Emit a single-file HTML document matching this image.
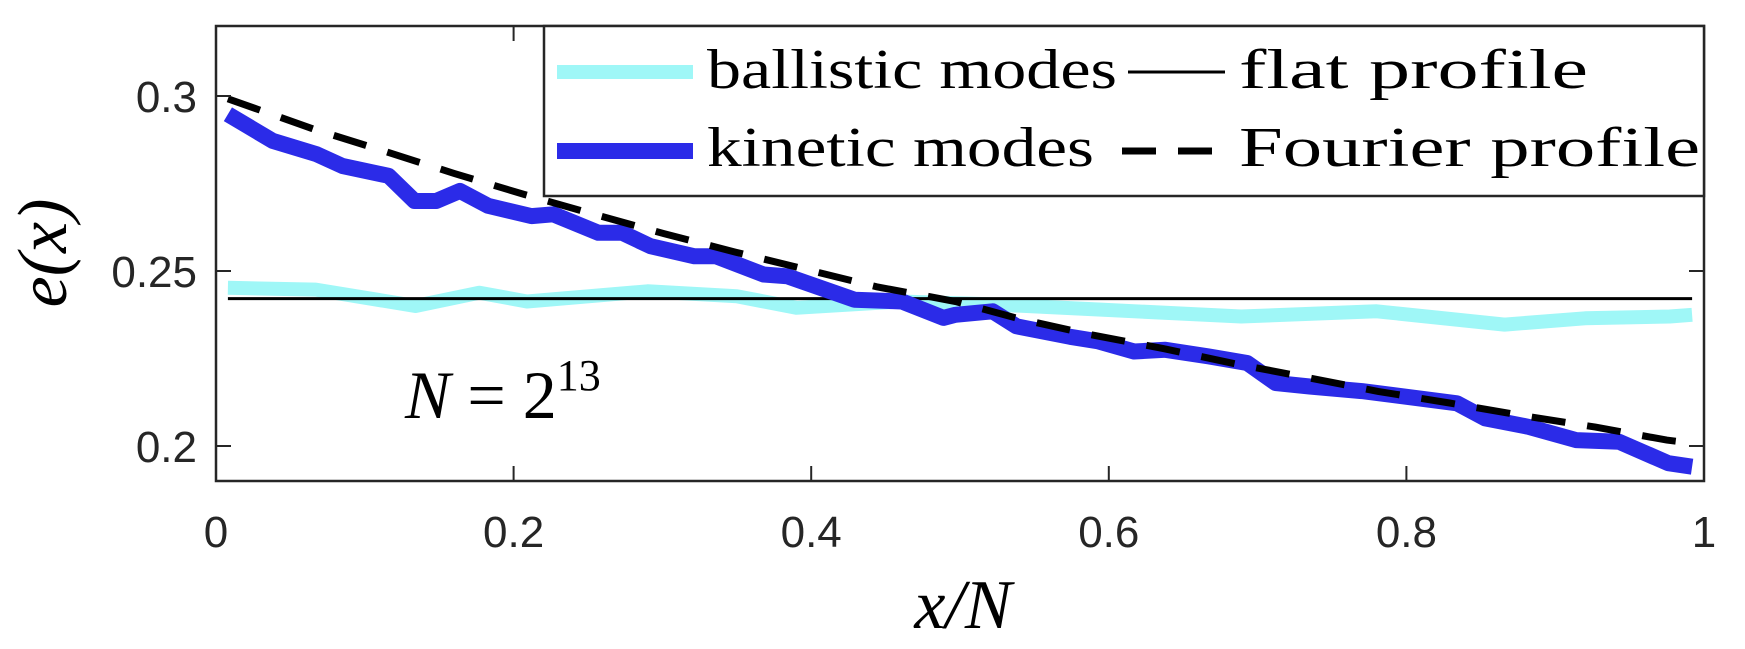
<!DOCTYPE html>
<html><head><meta charset="utf-8"><style>
html,body{margin:0;padding:0;background:#fff;}
svg{display:block;}
.tk{font-family:"Liberation Sans",sans-serif;font-size:44px;fill:#262626;}
.sf{font-family:"Liberation Serif",serif;fill:#000;}
</style></head><body>
<svg id="chart" width="1745" height="649" viewBox="0 0 1745 649">
<g id="plot"></g>
</svg>
<script>
const xTicks=[0,0.2,0.4,0.6,0.8,1];
const xTickLabels=["0","0.2","0.4","0.6","0.8","1"];
const yTicks=[0.2,0.25,0.3];
const yTickLabels=["0.2","0.25","0.3"];
const kinX=[0.008,0.038,0.0675,0.085,0.116,0.1334,0.148,0.164,0.183,0.212,0.2267,0.257,0.273,0.292,0.3216,0.336,0.368,0.384,0.429,0.461,0.489,0.497,0.522,0.538,0.574,0.593,0.617,0.638,0.667,0.693,0.712,0.735,0.77,0.834,0.853,0.882,0.914,0.943,0.976,0.992];
const kinY=[0.2948,0.2872,0.2834,0.280,0.2772,0.270,0.270,0.2729,0.2686,0.2657,0.2662,0.2609,0.2609,0.2571,0.2542,0.2542,0.249,0.2485,0.2418,0.2413,0.2366,0.2375,0.2385,0.2342,0.2312,0.2299,0.227,0.2275,0.2256,0.2237,0.218,0.217,0.2157,0.2122,0.2079,0.2055,0.2017,0.2012,0.1951,0.1941];
const balX=[0.008,0.067,0.134,0.177,0.209,0.29,0.35,0.39,0.46,0.52,0.593,0.689,0.78,0.866,0.92,0.977,0.992];
const balY=[0.2452,0.2447,0.240,0.2438,0.2413,0.2442,0.2428,0.2395,0.2413,0.2405,0.2390,0.237,0.2385,0.2347,0.2365,0.237,0.2375];
const fourX=[0.008,0.066,0.1126,0.160,0.207,0.254,0.301,0.349,0.397,0.444,0.497,0.540,0.588,0.637,0.685,0.733,0.781,0.829,0.878,0.927,0.975,0.992];
const fourY=[0.2992,0.2905,0.2843,0.2779,0.2719,0.2662,0.2607,0.2554,0.2504,0.2455,0.2413,0.2363,0.2318,0.2278,0.2235,0.2196,0.2156,0.2123,0.2087,0.2054,0.2017,0.2008];
const flatLevel=[0.2421];

const L=216,R=1704,T=26,B=481,yMin=0.19,yMax=0.32;
const sx=v=>L+(R-L)*v;
const sy=v=>B-(B-T)*(v-yMin)/(yMax-yMin);
const NS="http://www.w3.org/2000/svg";
const svg=document.getElementById('chart');
function mk(tag,attrs,parent){const e=document.createElementNS(NS,tag);for(const k in attrs)e.setAttribute(k,attrs[k]);(parent||svg).appendChild(e);return e;}
const plot=document.getElementById('plot');
const pts=(xs,ys)=>xs.map((x,i)=>sx(x).toFixed(1)+','+sy(ys[i]).toFixed(1)).join(' ');

let e;
e=mk('polyline',{points:pts(balX,balY),fill:'none',stroke:'#9ff7f7','stroke-width':14,'stroke-linejoin':'round'},plot);


e=mk('line',{x1:sx(0.008),x2:sx(0.992),y1:sy(flatLevel[0]),y2:sy(flatLevel[0]),stroke:'#000','stroke-width':3},plot);


e=mk('polyline',{points:pts(kinX,kinY),fill:'none',stroke:'#2b2be8','stroke-width':16,'stroke-linejoin':'round'},plot);


e=mk('polyline',{points:pts(fourX,fourY),fill:'none',stroke:'#000','stroke-width':7,'stroke-dasharray':'34 22'},plot);



e=mk('rect',{x:L,y:T,width:R-L,height:B-T,fill:'none',stroke:'#262626','stroke-width':2.5});


xTicks.forEach((v,i)=>{
  mk('line',{x1:sx(v),x2:sx(v),y1:B,y2:B-15,stroke:'#262626','stroke-width':2});
  mk('line',{x1:sx(v),x2:sx(v),y1:T,y2:T+15,stroke:'#262626','stroke-width':2});
  const t=mk('text',{x:sx(v),y:547,'text-anchor':'middle',class:'tk'});t.textContent=xTickLabels[i];
  
  
});
yTicks.forEach((v,i)=>{
  mk('line',{x1:L,x2:L+15,y1:sy(v),y2:sy(v),stroke:'#262626','stroke-width':2});
  mk('line',{x1:R,x2:R-15,y1:sy(v),y2:sy(v),stroke:'#262626','stroke-width':2});
  const t=mk('text',{x:197,y:sy(v)+16,'text-anchor':'end',class:'tk'});t.textContent=yTickLabels[i];
  
  
});
</script>
<svg width="1745" height="649" style="position:absolute;left:0;top:0">
<text class="sf" x="963" y="628" text-anchor="middle" font-size="70" font-style="italic">x/N</text>
<text class="sf" transform="translate(66,253) rotate(-90)" text-anchor="middle" font-size="70" font-style="italic">e(x)</text>
<text class="sf" x="405" y="418" font-size="68"><tspan font-style="italic">N</tspan> = 2<tspan font-size="44" dy="-28">13</tspan></text>
<g>
<rect x="544" y="26" width="1160" height="170" fill="#fff" stroke="#262626" stroke-width="2.5"/>
<line x1="557" x2="693" y1="72" y2="72" stroke="#9ff7f7" stroke-width="14"/>
<line x1="557" x2="693" y1="151" y2="151" stroke="#2b2be8" stroke-width="16"/>
<line x1="1128" x2="1225" y1="72" y2="72" stroke="#000" stroke-width="3"/>
<line x1="1122" x2="1225" y1="151" y2="151" stroke="#000" stroke-width="7" stroke-dasharray="34 22"/>
<text class="sf" x="707" y="88" font-size="56" textLength="410" lengthAdjust="spacingAndGlyphs">ballistic modes</text>
<text class="sf" x="707" y="166" font-size="56" textLength="387" lengthAdjust="spacingAndGlyphs">kinetic modes</text>
<text class="sf" x="1239" y="88" font-size="56" textLength="349" lengthAdjust="spacingAndGlyphs">flat profile</text>
<text class="sf" x="1239" y="166" font-size="56" textLength="461" lengthAdjust="spacingAndGlyphs">Fourier profile</text>
</g>
</svg>
</body></html>
